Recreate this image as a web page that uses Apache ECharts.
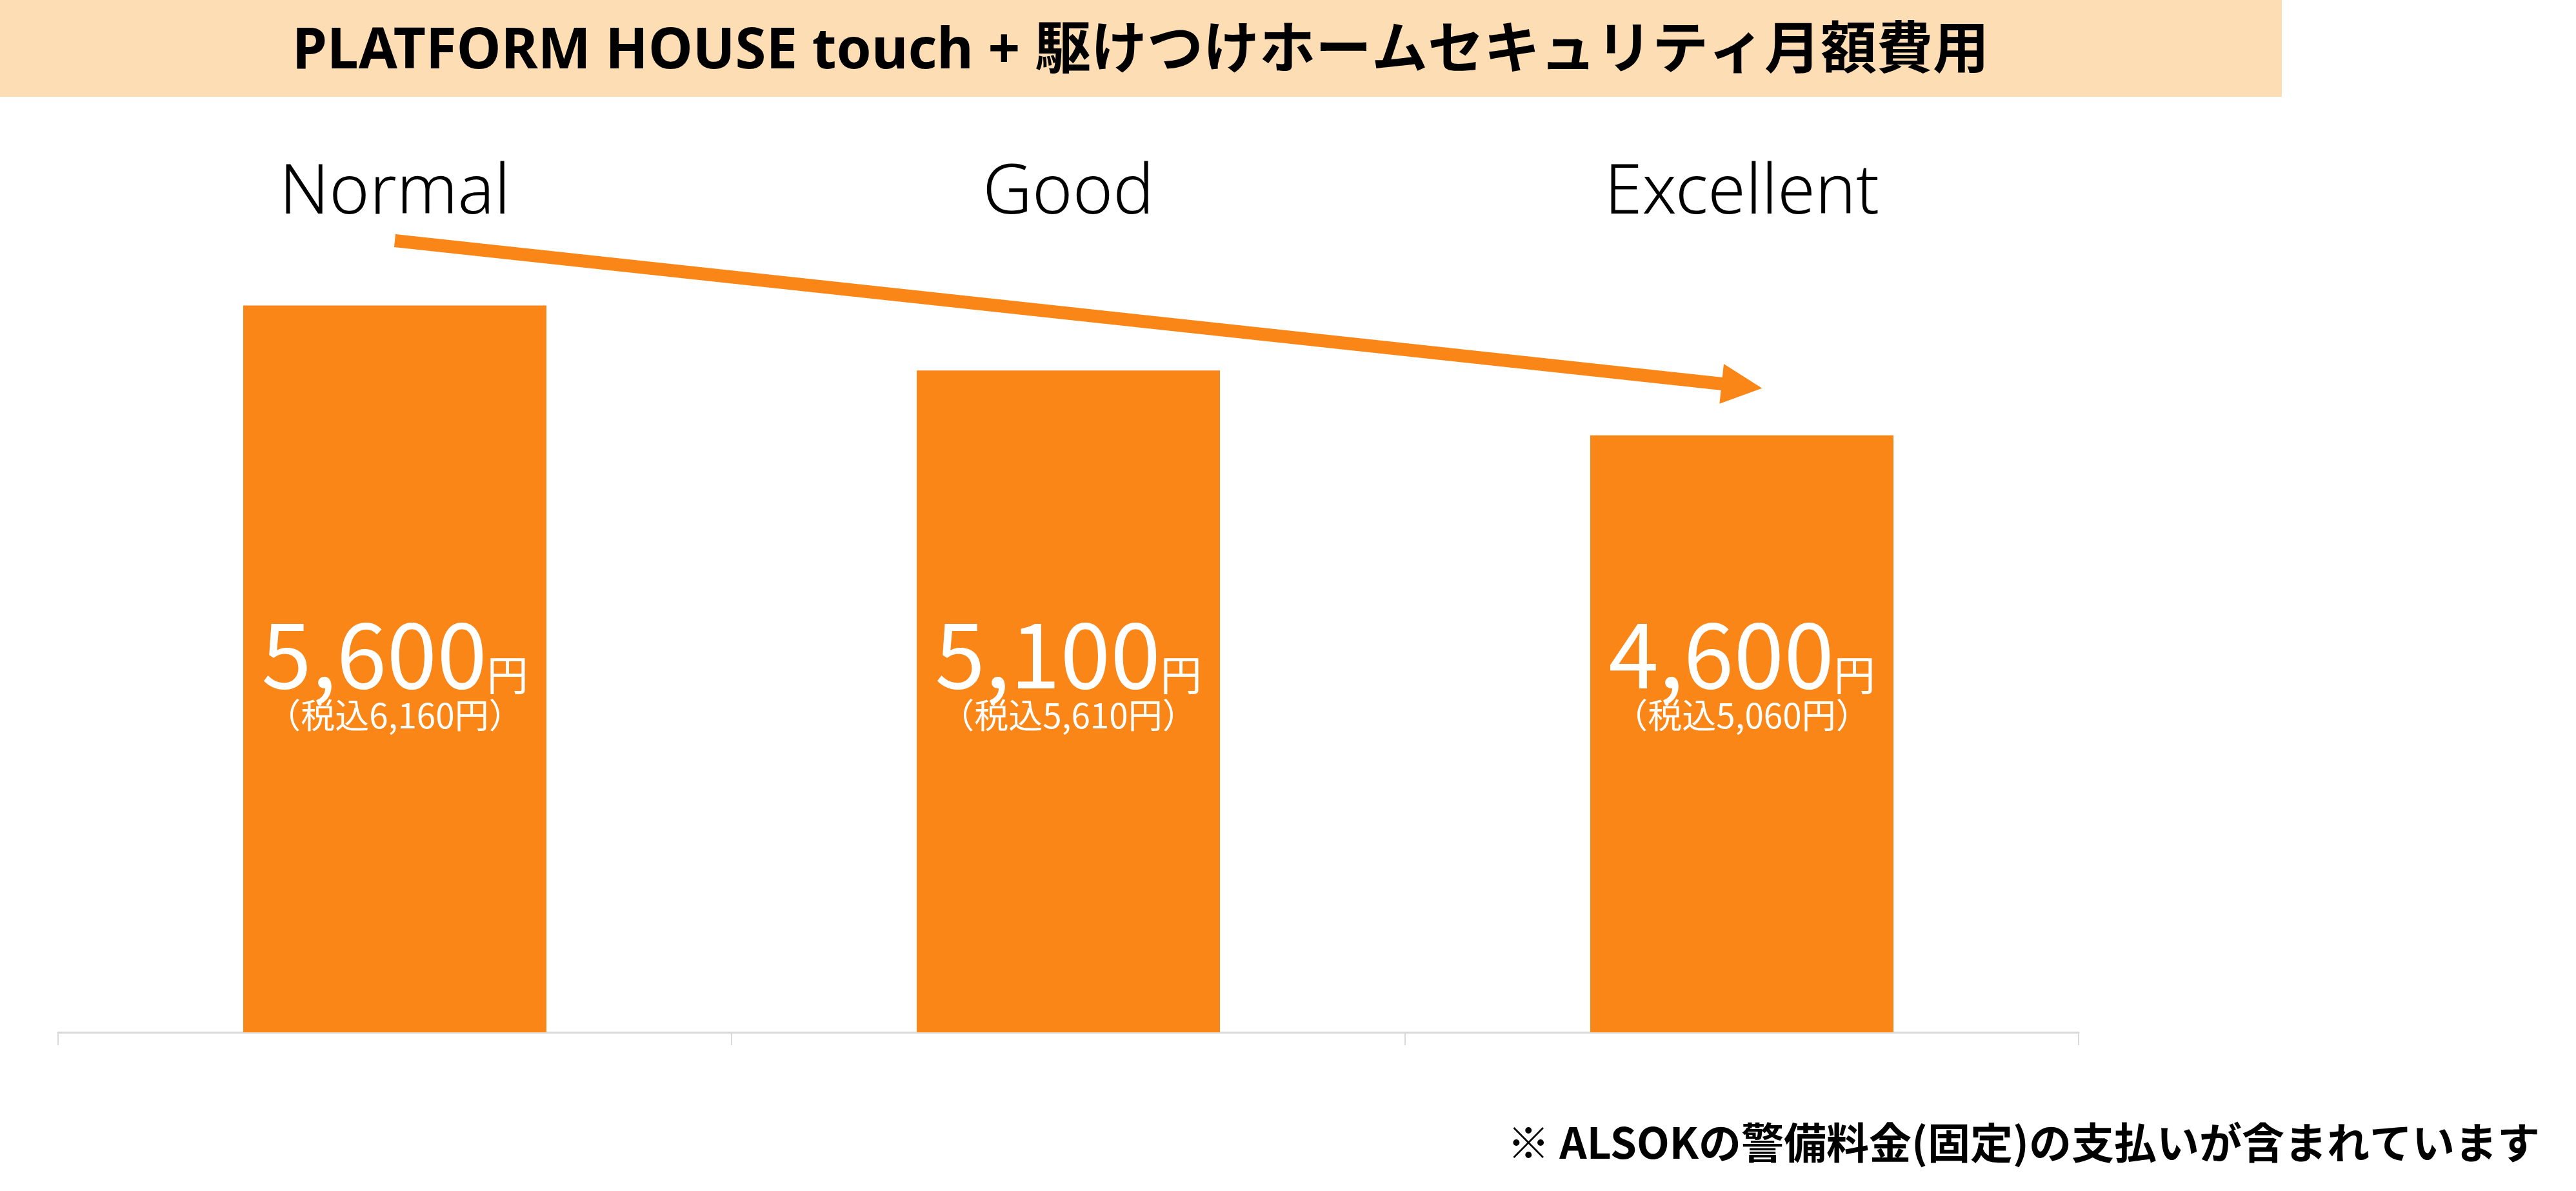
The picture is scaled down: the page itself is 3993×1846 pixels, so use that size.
<!DOCTYPE html>
<html>
<head>
<meta charset="utf-8">
<script src="https://cdn.jsdelivr.net/npm/echarts@6/dist/echarts.min.js"></script>
<style>
  html, body { margin: 0; padding: 0; background: #ffffff; }
  #chart { width: 3993px; height: 1846px; }
</style>
</head>
<body>
<div id="chart"></div>
<script>
// ---- data ----
const categories = ['Normal', 'Good', 'Excellent'];
const monthlyFee = [5600, 5100, 4600];           // 円 (税抜)
const monthlyFeeTaxIncl = [6160, 5610, 5060];    // 円 (税込)
const arrowStart = ['Normal', 6100];
const arrowEnd = ['Excellent', 4980];
const titleText = 'PLATFORM HOUSE touch + 駆けつけホームセキュリティ月額費用';
const footnoteText = '※ ALSOKの警備料金(固定)の支払いが含まれています';

const ORANGE = '#F98617';
const BAND = '#FDDDB3';
const JP = '"Noto Sans CJK JP", "Noto Sans", sans-serif';
const LATIN = '"Noto Sans", "Noto Sans CJK JP", sans-serif';

const fmt = v => v.toLocaleString('en-US');

const chart = echarts.init(document.getElementById('chart'));
chart.setOption({
  animation: false,
  backgroundColor: '#ffffff',
  graphic: [
    {
      type: 'rect',
      shape: { x: 0, y: 0, width: 3537, height: 150 },
      style: { fill: BAND },
      silent: true
    },
    {
      type: 'text',
      style: {
        text: titleText,
        x: 1768, y: 81,
        textAlign: 'center', textVerticalAlign: 'middle',
        align: 'center', verticalAlign: 'middle',
        font: 'bold 87px ' + LATIN,
        fill: '#000000'
      },
      silent: true
    },
    {
      type: 'text',
      style: {
        text: footnoteText,
        x: 3937, y: 1771,
        textAlign: 'right', textVerticalAlign: 'middle',
        align: 'right', verticalAlign: 'middle',
        font: 'bold 66px ' + JP,
        fill: '#000000'
      },
      silent: true
    }
  ],
  grid: { left: 90, right: 771, top: 192, bottom: 246, containLabel: false, outerBoundsMode: 'none' },
  xAxis: [
    {
      type: 'category',
      data: categories,
      position: 'bottom',
      axisLine: { show: true, lineStyle: { color: '#D9D9D9', width: 3 } },
      axisTick: { show: true, length: 20, lineStyle: { color: '#D9D9D9', width: 2 } },
      axisLabel: { show: false }
    },
    {
      type: 'category',
      data: categories,
      position: 'top',
      axisLine: { show: false },
      axisTick: { show: false },
      axisLabel: {
        show: true,
        fontFamily: LATIN,
        fontSize: 106,
        fontWeight: 300,
        color: '#000000',
        lineHeight: 106,
        margin: -162
      }
    }
  ],
  yAxis: {
    type: 'value',
    min: 0,
    max: 7000,
    show: false,
    splitLine: { show: false }
  },
  series: [
    {
      type: 'bar',
      xAxisIndex: 0,
      data: monthlyFee,
      barWidth: 470,
      itemStyle: { color: ORANGE },
      silent: true,
      label: {
        show: true,
        position: 'insideBottom',
        distance: 460,
        formatter: p => '{a|' + fmt(p.value) + '}{b|円}\n{c|（税込' + fmt(monthlyFeeTaxIncl[p.dataIndex]) + '円）}',
        rich: {
          a: { fontFamily: JP, fontSize: 140, color: '#ffffff', lineHeight: 128 },
          b: { fontFamily: JP, fontSize: 64, color: '#ffffff', lineHeight: 83, verticalAlign: 'bottom' },
          c: { fontFamily: JP, fontSize: 53, color: '#ffffff', lineHeight: 62 }
        }
      },
      markLine: {
        silent: true,
        symbol: ['none', 'path://M1,0 L2,2 L0,2 Z'],
        symbolSize: [62, 63],
        label: { show: false },
        lineStyle: { color: ORANGE, width: 20, type: 'solid', opacity: 1 },
        emphasis: { disabled: true },
        data: [[{ coord: arrowStart }, { coord: arrowEnd }]]
      }
    }
  ]
});
</script>
</body>
</html>
